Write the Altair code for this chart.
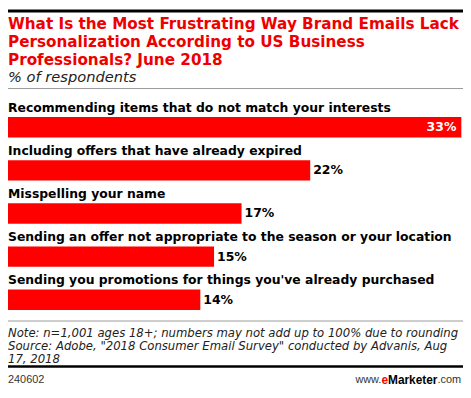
import altair as alt
import pandas as pd

categories = [
    "Recommending items that do not match your interests",
    "Including offers that have already expired",
    "Misspelling your name",
    "Sending an offer not appropriate to the season or your location",
    "Sending you promotions for things you've already purchased",
]
values = [33, 22, 17, 15, 14]
title_lines = [
    "What Is the Most Frustrating Way Brand Emails Lack",
    "Personalization According to US Business",
    "Professionals? June 2018",
]
subtitle = "% of respondents"
note_lines = [
    "Note: n=1,001 ages 18+; numbers may not add up to 100% due to rounding",
    'Source: Adobe, "2018 Consumer Email Survey" conducted by Advanis, Aug',
    "17, 2018",
]
chart_id = "240602"

W, H = 460, 380
K = H / 388.0
BOLD = "DejaVu Sans"
SANS = "Liberation Sans"


def Y(ref):
    return round((ref - 5) * K, 2)


def X(ref):
    return ref - 5


df = pd.DataFrame({"cat": categories, "val": values, "label": [f"{v}%" for v in values]})
one = alt.Data(values=[{"a": 1}])

yenc = alt.Y("cat:N", sort=categories, axis=None,
             scale=alt.Scale(range=[Y(115.5), Y(314.5)], paddingInner=0.528, paddingOuter=0))
xenc = alt.X("val:Q", axis=None, scale=alt.Scale(domain=[0, 33], range=[0, X(463.3)]))

base = alt.Chart(df)
bars = base.mark_bar(color="#ff0000").encode(x=xenc, y=yenc)
cat_labels = base.mark_text(align="left", baseline="alphabetic", font=BOLD, fontSize=12.5,
                            fontWeight="bold", color="#000000", dy=-16 * K).encode(
    x=alt.value(0), y=yenc, text="cat:N")
val_out = base.transform_filter("datum.val < 30").mark_text(
    align="left", baseline="middle", font=BOLD, fontSize=12.6, fontWeight="bold",
    color="#000000", dx=3).encode(x=xenc, y=yenc, text="label:N")
val_in = base.transform_filter("datum.val >= 30").mark_text(
    align="right", baseline="middle", font=BOLD, fontSize=12.6, fontWeight="bold",
    color="#ffffff", dx=-5).encode(x=xenc, y=yenc, text="label:N")


def rule(yref, color, sw):
    return alt.Chart(one).mark_rule(color=color, strokeWidth=sw).encode(
        x=alt.value(0), x2=alt.value(W), y=alt.value(Y(yref)))


def txt(text, xref, yref, size, color="#000000", weight="normal", style="normal",
        align="left", baseline="alphabetic", lh=None, font=SANS):
    kw = dict(align=align, baseline=baseline, font=font, fontSize=size, color=color,
              fontWeight=weight, fontStyle=style)
    if lh is not None:
        kw["lineHeight"] = lh
    return alt.Chart(one).mark_text(**kw).encode(
        x=alt.value(X(xref)), y=alt.value(Y(yref)), text=alt.value(text))


layers = [
    rule(6, "#000000", 3),
    txt(title_lines, 5, 25, 15.4, color="#ee0000", weight="bold", lh=18.3 * K, font=BOLD),
    txt(subtitle, 5, 79, 14.8, color="#222222", style="italic", font="DejaVu Sans"),
    rule(86, "#999999", 1),
    bars, cat_labels, val_out, val_in,
    rule(326, "#999999", 1),
    txt(note_lines, 5, 342.7, 11.8, color="#222222", style="italic", lh=13.3 * K,
        font="DejaVu Sans"),
    rule(373, "#000000", 2.5),
    txt(chart_id, 5, 387, 11, color="#333333", baseline="middle"),
    txt(".com", 463, 387, 11, color="#333333", align="right", baseline="middle"),
    txt("Marketer", 439.2, 387, 12, color="#000000", weight="bold", align="right",
        baseline="middle"),
    txt("e", 389.2, 387, 12, color="#ff0000", weight="bold", align="right", baseline="middle"),
    txt("www.", 382.5, 387, 11, color="#333333", align="right", baseline="middle"),
]

chart = alt.layer(*layers).properties(
    width=W, height=H, padding=0, autosize=alt.AutoSizeParams(type="none")
).configure_view(stroke=None)

chart.save("out.html", embed_options={"renderer": "svg", "actions": False})
